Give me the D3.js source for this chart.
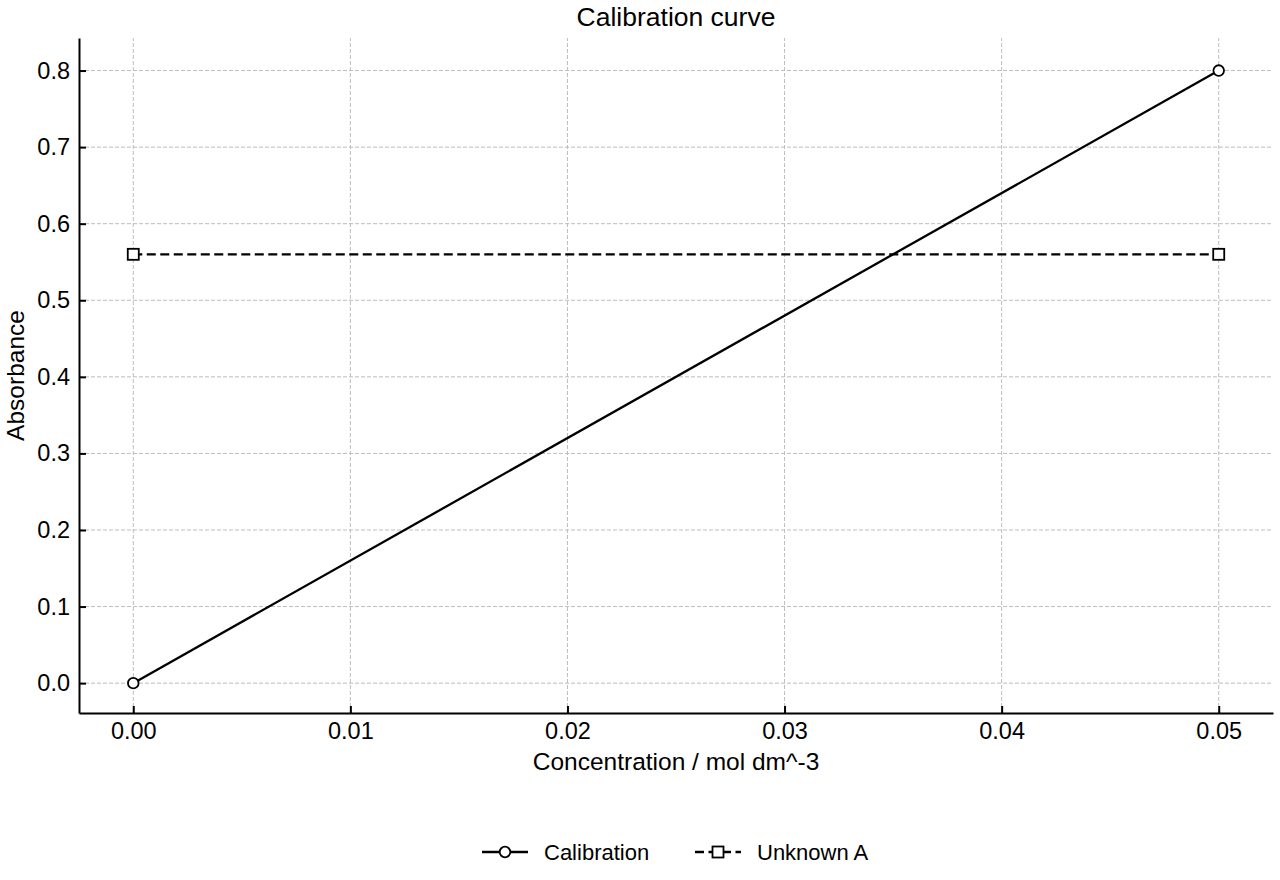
<!DOCTYPE html>
<html>
<head>
<meta charset="utf-8">
<script src="https://cdn.jsdelivr.net/npm/d3@7"></script>
<style>
  body { margin: 0; background: #fff; }
  svg text { font-family: "Liberation Sans", Arial, sans-serif; fill: #000; }
</style>
</head>
<body>
<div id="chart"></div>
<script>
// data
var calibrationX = [0.0, 0.05];
var calibrationY = [0.0, 0.8];
var unknownX = [0.0, 0.05];
var unknownY = [0.56, 0.56];
var xTicks = [0.00, 0.01, 0.02, 0.03, 0.04, 0.05];
var yTicks = [0.0, 0.1, 0.2, 0.3, 0.4, 0.5, 0.6, 0.7, 0.8];
var seriesNames = ["Calibration", "Unknown A"];

var width = 1280, height = 880;
var margin = {left: 79, right: 7, top: 38, bottom: 167};

var svg = d3.select("#chart")
  .append("svg")
  .attr("width", width)
  .attr("height", height);

var x = d3.scaleLinear()
  .domain([-0.0025, 0.0525])
  .range([margin.left, width - margin.right]);

var y = d3.scaleLinear()
  .domain([-0.039, 0.8425])
  .range([height - margin.bottom, margin.top]);

// Grid lines
svg.append("g")
  .selectAll("line")
  .data(xTicks)
  .enter()
  .append("line")
  .attr("x1", function(d) { return x(d); })
  .attr("x2", function(d) { return x(d); })
  .attr("y1", y.range()[0])
  .attr("y2", y.range()[1])
  .attr("stroke", "#bdbdbd")
  .attr("stroke-width", 1)
  .attr("stroke-dasharray", "4,2");

svg.append("g")
  .selectAll("line")
  .data(yTicks)
  .enter()
  .append("line")
  .attr("y1", function(d) { return y(d); })
  .attr("y2", function(d) { return y(d); })
  .attr("x1", x.range()[0])
  .attr("x2", x.range()[1])
  .attr("stroke", "#bdbdbd")
  .attr("stroke-width", 1)
  .attr("stroke-dasharray", "4,2");

// Axes
var xAxis = svg.append("g")
  .attr("transform", "translate(0," + y.range()[0] + ")")
  .call(d3.axisBottom(x).tickValues(xTicks).tickFormat(d3.format(".2f")).tickSizeInner(-7).tickSizeOuter(0).tickPadding(9));

var yAxis = svg.append("g")
  .attr("transform", "translate(" + x.range()[0] + ",0)")
  .call(d3.axisLeft(y).tickValues(yTicks).tickFormat(d3.format(".1f")).tickSizeInner(-7).tickSizeOuter(0).tickPadding(9));

[xAxis, yAxis].forEach(function(ax) {
  ax.select(".domain").attr("stroke", "#000").attr("stroke-width", 2);
  ax.selectAll(".tick line").attr("stroke", "#000").attr("stroke-width", 2);
  ax.selectAll(".tick text").attr("font-size", 23.5).attr("font-family", "Liberation Sans, Arial, sans-serif");
});

// Lines
var line = d3.line()
  .x(function(d) { return x(d[0]); })
  .y(function(d) { return y(d[1]); });

var calData = d3.zip(calibrationX, calibrationY);
var unkData = d3.zip(unknownX, unknownY);

svg.append("path")
  .datum(calData)
  .attr("d", line)
  .attr("fill", "none")
  .attr("stroke", "#000")
  .attr("stroke-width", 2.3);

svg.append("path")
  .datum(unkData)
  .attr("d", line)
  .attr("fill", "none")
  .attr("stroke", "#000")
  .attr("stroke-width", 2.3)
  .attr("stroke-dasharray", "9,4.5");

svg.selectAll("circle.cal")
  .data(calData)
  .enter()
  .append("circle")
  .attr("class", "cal")
  .attr("cx", function(d) { return x(d[0]); })
  .attr("cy", function(d) { return y(d[1]); })
  .attr("r", 5.3)
  .attr("fill", "#fff")
  .attr("stroke", "#000")
  .attr("stroke-width", 1.8);

svg.selectAll("rect.unk")
  .data(unkData)
  .enter()
  .append("rect")
  .attr("class", "unk")
  .attr("x", function(d) { return x(d[0]) - 5.5; })
  .attr("y", function(d) { return y(d[1]) - 5.5; })
  .attr("width", 11)
  .attr("height", 11)
  .attr("fill", "#fff")
  .attr("stroke", "#000")
  .attr("stroke-width", 1.8);

// Titles
var plotMid = (x.range()[0] + x.range()[1]) / 2;

svg.append("text")
  .attr("x", plotMid)
  .attr("y", 26)
  .attr("text-anchor", "middle")
  .attr("font-size", 26.5)
  .text("Calibration curve");

svg.append("text")
  .attr("x", plotMid)
  .attr("y", 770)
  .attr("text-anchor", "middle")
  .attr("font-size", 24.5)
  .text("Concentration / mol dm^-3");

svg.append("text")
  .attr("transform", "translate(24," + (y.range()[0] + y.range()[1]) / 2 + ") rotate(-90)")
  .attr("text-anchor", "middle")
  .attr("font-size", 24.5)
  .text("Absorbance");

// Legend
var legend = svg.append("g").attr("transform", "translate(0,852)");

var calItem = legend.append("g").attr("transform", "translate(482,0)");
calItem.append("line")
  .attr("x1", 0).attr("x2", 46).attr("y1", 0).attr("y2", 0)
  .attr("stroke", "#000").attr("stroke-width", 2.3);
calItem.append("circle")
  .attr("cx", 23).attr("cy", 0).attr("r", 5.3)
  .attr("fill", "#fff").attr("stroke", "#000").attr("stroke-width", 1.8);
calItem.append("text")
  .attr("x", 62).attr("y", 8)
  .attr("font-size", 22)
  .text(seriesNames[0]);

var unkItem = legend.append("g").attr("transform", "translate(695,0)");
unkItem.append("line")
  .attr("x1", 0).attr("x2", 46).attr("y1", 0).attr("y2", 0)
  .attr("stroke", "#000").attr("stroke-width", 2.3)
  .attr("stroke-dasharray", "9,4.5");
unkItem.append("rect")
  .attr("x", 17.5).attr("y", -5.5).attr("width", 11).attr("height", 11)
  .attr("fill", "#fff").attr("stroke", "#000").attr("stroke-width", 1.8);
unkItem.append("text")
  .attr("x", 62).attr("y", 8)
  .attr("font-size", 22)
  .text(seriesNames[1]);
</script>
</body>
</html>
